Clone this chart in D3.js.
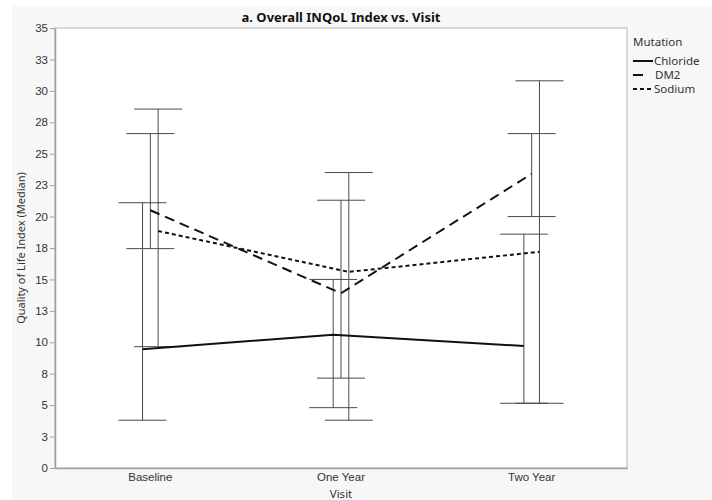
<!DOCTYPE html>
<html>
<head>
<meta charset="utf-8">
<script src="https://cdn.jsdelivr.net/npm/d3@7"></script>
<style>
  html, body { margin: 0; padding: 0; background: #ffffff; }
  svg { display: block; font-family: "Noto Sans", "Open Sans", sans-serif; }
</style>
</head>
<body>
<svg id="chart" width="712" height="500"></svg>
<script>
// ---- data ----
const categories = ["Baseline", "One Year", "Two Year"];
const seriesNames = ["Chloride", "DM2", "Sodium"];
const chlorideMedian = [9.45, 10.6, 9.7];
const chlorideLow    = [3.8, 4.8, 5.15];
const chlorideHigh   = [21.1, 15.0, 18.6];
const dm2Median      = [20.5, 13.9, 23.4];
const dm2Low         = [17.45, 7.15, 20.0];
const dm2High        = [26.6, 21.3, 26.6];
const sodiumMedian   = [18.85, 15.6, 17.2];
const sodiumLow      = [9.65, 3.8, 5.15];
const sodiumHigh     = [28.55, 23.5, 30.8];
const yTickValues = [0, 2.5, 5, 7.5, 10, 12.5, 15, 17.5, 20, 22.5, 25, 27.5, 30, 32.5, 35];
const yTickLabels = ["0", "3", "5", "8", "10", "13", "15", "18", "20", "23", "25", "28", "30", "33", "35"];

const series = [
  { name: "Chloride", median: chlorideMedian, low: chlorideLow, high: chlorideHigh, dash: null },
  { name: "DM2", median: dm2Median, low: dm2Low, high: dm2High, dash: "10,6" },
  { name: "Sodium", median: sodiumMedian, low: sodiumLow, high: sodiumHigh, dash: "4,3" }
];

// ---- layout ----
const svg = d3.select("#chart");
const W = 712, H = 500;
const m = { left: 55, top: 28, right: 627, bottom: 468 };

// outer panel
svg.append("rect").attr("x", 12).attr("y", 6).attr("width", W - 12).attr("height", H - 6)
  .attr("fill", "#f7f7f7");

svg.append("rect").attr("x", m.left).attr("y", m.top)
  .attr("width", m.right - m.left).attr("height", m.bottom - m.top)
  .attr("fill", "#ffffff").attr("stroke", "#b4b4b4").attr("stroke-width", 1);

const x = d3.scaleBand().domain(categories).range([m.left, m.right]);
const off = d3.scalePoint().domain(seriesNames).range([-7.8, 7.8]);
const y = d3.scaleLinear().domain([0, 35]).range([m.bottom, m.top]);

// y axis
const yAxis = d3.axisLeft(y).tickValues(yTickValues)
  .tickFormat((d, i) => yTickLabels[i]).tickSize(5).tickSizeOuter(0);
const gy = svg.append("g").attr("transform", `translate(${m.left},0)`).call(yAxis);
gy.select(".domain").attr("stroke", "#a0a0a0").attr("stroke-width", 1.5);
gy.selectAll(".tick line").attr("stroke", "#a0a0a0");
gy.selectAll(".tick text").attr("fill", "#333").style("font-size", "11.5px").attr("x", -7);

// x axis
const xAxis = d3.axisBottom(x).tickSize(0).tickSizeOuter(0);
const gx = svg.append("g").attr("transform", `translate(0,${m.bottom})`).call(xAxis);
gx.select(".domain").attr("stroke", "#a0a0a0").attr("stroke-width", 1.5);
gx.selectAll(".tick text").attr("fill", "#333").style("font-size", "11.5px").attr("dy", "0.71em").attr("y", 5);

const cx = (cat, s) => x(cat) + x.bandwidth() / 2 + off(s);

// error bars
const capW = 48;
series.forEach(s => {
  const g = svg.append("g").attr("stroke", "#4a4a4a").attr("stroke-width", 1).attr("fill", "none");
  categories.forEach((c, i) => {
    const xc = cx(c, s.name);
    g.append("line").attr("x1", xc).attr("x2", xc).attr("y1", y(s.low[i])).attr("y2", y(s.high[i]));
    g.append("line").attr("x1", xc - capW / 2).attr("x2", xc + capW / 2).attr("y1", y(s.low[i])).attr("y2", y(s.low[i]));
    g.append("line").attr("x1", xc - capW / 2).attr("x2", xc + capW / 2).attr("y1", y(s.high[i])).attr("y2", y(s.high[i]));
  });
});

// median lines
const line = d3.line().x(d => d[0]).y(d => d[1]);
series.forEach(s => {
  const pts = categories.map((c, i) => [cx(c, s.name), y(s.median[i])]);
  svg.append("path").attr("d", line(pts)).attr("fill", "none")
    .attr("stroke", "#111").attr("stroke-width", 2)
    .attr("stroke-dasharray", s.dash);
});

// title
svg.append("text").attr("x", (m.left + m.right) / 2).attr("y", 22)
  .attr("text-anchor", "middle").style("font-size", "13px").style("font-weight", "bold")
  .attr("fill", "#111").text("a. Overall INQoL Index vs. Visit");

// axis titles
svg.append("text").attr("x", (m.left + m.right) / 2).attr("y", 498)
  .attr("text-anchor", "middle").style("font-size", "11.5px").attr("fill", "#333").text("Visit");
svg.append("text").attr("transform", `translate(25,${(m.top + m.bottom) / 2}) rotate(-90)`)
  .attr("text-anchor", "middle").style("font-size", "11px").attr("fill", "#333")
  .text("Quality of Life Index (Median)");

// legend
const lg = svg.append("g");
lg.append("text").attr("x", 633).attr("y", 46).style("font-size", "11.5px").attr("fill", "#333").text("Mutation");
const legendDash = { "Chloride": null, "DM2": "10,20", "Sodium": "4,3" };
seriesNames.forEach((n, i) => {
  const yy = 61 + i * 14;
  lg.append("line").attr("x1", 633).attr("x2", 653).attr("y1", yy).attr("y2", yy)
    .attr("stroke", "#111").attr("stroke-width", 2).attr("stroke-dasharray", legendDash[n]);
  lg.append("text").attr("x", n === "DM2" ? 655 : 654).attr("y", yy + 4)
    .style("font-size", "11.5px").attr("fill", "#333").text(n);
});
</script>
</body>
</html>
